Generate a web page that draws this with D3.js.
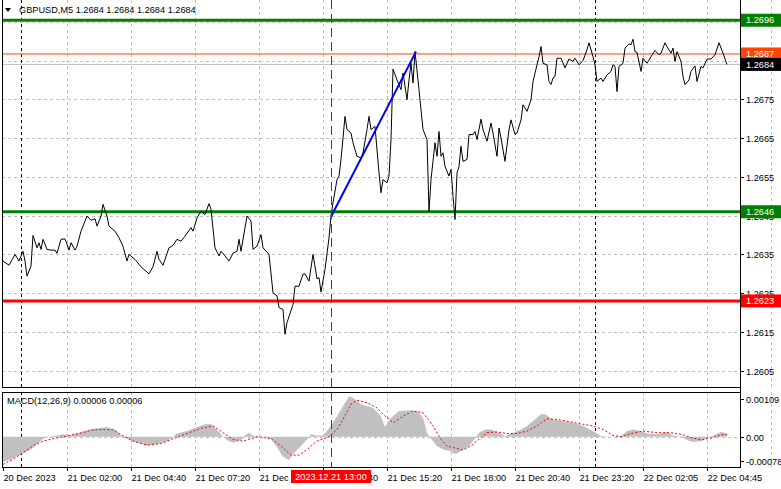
<!DOCTYPE html>
<html>
<head>
<meta charset="utf-8">
<script src="https://cdn.jsdelivr.net/npm/d3@7"></script>
<style>
html,body{margin:0;padding:0;background:#fff;}
svg{display:block;}
text{font-family:"Liberation Sans",Arial,sans-serif;font-size:9.2px;fill:#000;}
</style>
</head>
<body>
<svg id="chart" width="781" height="489"></svg>
<script>
// ---------------- DATA ----------------
const symbolTitle = "GBPUSD,M5  1.2684 1.2684 1.2684 1.2684";
const macdTitle = "MACD(12,26,9) 0.00006 0.00006";
const barCount = 363;
// close price vertices: [bar index, price]
const priceVertices = [
[0,1.26333],[3,1.26322],[6,1.26350],[8,1.26333],[10,1.26358],[11,1.26333],[12,1.26294],[14,1.26320],
[15,1.26399],[17,1.26367],[18,1.26380],[19,1.26363],[20,1.26389],[22,1.26363],[24,1.26361],[26,1.26361],
[27,1.26353],[29,1.26389],[31,1.26390],[32,1.26376],[33,1.26361],[34,1.26380],[36,1.26361],[37,1.26371],
[39,1.26410],[42,1.26449],[44,1.26438],[46,1.26442],[47,1.26423],[49,1.26449],[50,1.26479],[52,1.26449],
[53,1.26423],[56,1.26410],[58,1.26393],[60,1.26371],[62,1.26333],[63,1.26350],[66,1.26337],[69,1.26318],
[73,1.26300],[75,1.26318],[77,1.26358],[78,1.26337],[80,1.26322],[83,1.26367],[85,1.26373],[87,1.26389],
[89,1.26384],[91,1.26397],[94,1.26419],[95,1.26410],[97,1.26444],[99,1.26461],[101,1.26453],[103,1.26481],
[104,1.26466],[106,1.26367],[108,1.26346],[109,1.26358],[111,1.26346],[113,1.26333],[115,1.26353],[117,1.26358],
[118,1.26389],[119,1.26358],[122,1.26449],[124,1.26436],[125,1.26363],[127,1.26371],[129,1.26401],[130,1.26367],
[133,1.26350],[135,1.26251],[137,1.26243],[138,1.26213],[140,1.26208],[141,1.26144],[142,1.26174],[145,1.26221],
[146,1.26268],[148,1.26268],[150,1.26299],[151,1.26300],[153,1.26281],[155,1.26350],[157,1.26287],[158,1.26290],
[159,1.26253],[161,1.26311],[163,1.26393],[164,1.26449],[165,1.26483],[167,1.26543],[168,1.26552],[169,1.26595],
[171,1.26706],[172,1.26672],[174,1.26663],[175,1.26638],[177,1.26603],[179,1.26599],[180,1.26612],[182,1.26672],
[183,1.26706],[184,1.26672],[186,1.26680],[188,1.26560],[189,1.26509],[190,1.26543],[192,1.26535],[193,1.26552],
[194,1.26646],[195,1.26828],[197,1.26800],[199,1.26775],[200,1.26818],[202,1.26749],[203,1.26800],[204,1.26843],
[205,1.26792],[206,1.26873],[208,1.26775],[209,1.26723],[210,1.26672],[212,1.26646],[213,1.26461],[214,1.26543],
[216,1.26638],[217,1.26603],[218,1.26667],[219,1.26603],[220,1.26612],[221,1.26577],[223,1.26552],[224,1.26569],
[225,1.26500],[226,1.26440],[227,1.26560],[228,1.26577],[229,1.26629],[230,1.26590],[232,1.26595],[233,1.26659],
[235,1.26659],[236,1.26667],[237,1.26646],[239,1.26699],[240,1.26672],[242,1.26642],[244,1.26689],[245,1.26663],
[247,1.26603],[248,1.26676],[249,1.26650],[251,1.26590],[253,1.26672],[254,1.26697],[256,1.26659],[257,1.26663],
[259,1.26697],[260,1.26736],[262,1.26719],[264,1.26749],[265,1.26796],[267,1.26839],[268,1.26860],[269,1.26886],
[270,1.26843],[272,1.26839],[273,1.26796],[274,1.26788],[275,1.26805],[276,1.26809],[277,1.26856],[279,1.26856],
[281,1.26831],[283,1.26854],[285,1.26848],[286,1.26856],[288,1.26839],[290,1.26850],[292,1.26878],[293,1.26896],
[295,1.26860],[296,1.26839],[297,1.26796],[299,1.26805],[300,1.26796],[302,1.26813],[304,1.26822],[305,1.26839],
[306,1.26835],[307,1.26770],[308,1.26835],[310,1.26843],[311,1.26882],[313,1.26893],[314,1.26891],[315,1.26905],
[316,1.26873],[317,1.26871],[319,1.26822],[320,1.26856],[322,1.26843],[324,1.26860],[326,1.26876],[328,1.26865],
[329,1.26869],[331,1.26896],[332,1.26886],[334,1.26869],[335,1.26882],[336,1.26848],[337,1.26873],[339,1.26848],
[340,1.26809],[341,1.26788],[343,1.26800],[344,1.26822],[346,1.26836],[347,1.26796],[349,1.26835],[350,1.26831],
[352,1.26854],[354,1.26854],[356,1.26865],[358,1.26896],[360,1.26869],[362,1.26840]
];
// MACD main (histogram) vertices: [bar index, value]
const macdMain = [
[0,-0.00063],[4,-0.00056],[9,-0.00044],[14,-0.00032],[17,-0.00019],[20,-0.00005],[23,0],[27,0.00003],[30,0.00006],
[33,0.00003],[38,0.0001],[43,0.00018],[48,0.00022],[52,0.00024],[56,0.00018],[59,0.00003],[63,-0.00007],[67,-0.00015],
[72,-0.00022],[77,-0.00019],[82,-0.00011],[87,0.00008],[92,0.00014],[97,0.00024],[101,0.00031],[104,0.00032],
[106,0.00022],[109,0.00006],[112,-0.00008],[115,-0.00015],[119,-0.00008],[121,0.00003],[123,0.0001],[124,0.00006],
[127,-0.00002],[130,0],[134,-0.00005],[137,-0.00027],[140,-0.0005],[143,-0.00058],[145,-0.00044],[149,-0.00023],
[152,-0.00007],[154,0.00006],[157,0.00003],[160,0.00003],[164,0.00027],[167,0.00051],[170,0.00076],[173,0.00101],
[175,0.00097],[179,0.00081],[182,0.00076],[185,0.00072],[189,0.0005],[191,0.00025],[194,0.00047],[198,0.00064],
[204,0.00066],[207,0.00064],[210,0.00047],[212,0.0001],[214,-0.00005],[217,-0.00023],[220,-0.00032],[224,-0.00036],
[226,-0.00044],[229,-0.00036],[233,-0.00023],[235,-0.00011],[238,0.0001],[241,0.00018],[244,0.00018],[248,0.0001],
[251,0.00002],[255,0.0001],[259,0.00018],[262,0.00027],[265,0.00039],[269,0.00056],[271,0.00056],[275,0.00043],
[280,0.00039],[285,0.00035],[290,0.00027],[295,0.00014],[299,0.00002],[304,0],[309,0.00002],[312,0.00014],
[315,0.00018],[319,0.00014],[322,0.00008],[327,0.00006],[332,0.00012],[335,0.00003],[339,0],[342,-0.00008],
[345,-0.00013],[349,-0.00011],[353,-0.00002],[355,0.00003],[359,0.00012],[361,0.0001],[362,0.00006]
];
// MACD signal vertices: [bar index, value]
const macdSignal = [
[0,-0.00069],[5,-0.00056],[10,-0.0004],[15,-0.00023],[20,-0.00011],[25,-0.00005],[32,0.00002],[38,0.00008],
[45,0.00017],[50,0.00018],[55,0.00017],[60,0.00002],[65,-0.00011],[72,-0.00021],[79,-0.00017],[85,-0.00005],
[92,0.00008],[99,0.00021],[105,0.00027],[110,0.0001],[115,-0.00007],[120,-0.00011],[127,0],[134,-0.00005],
[139,-0.00023],[144,-0.00046],[148,-0.00046],[152,-0.00032],[157,-0.00011],[163,0],[167,0.00018],[170,0.00043],
[174,0.00081],[177,0.00091],[182,0.00085],[187,0.00072],[190,0.00056],[195,0.00035],[200,0.00051],[205,0.00064],
[210,0.0006],[215,0.00027],[219,-0.00007],[222,-0.00023],[225,-0.00027],[230,-0.00033],[234,-0.00023],[239,-0.00002],
[242,0.0001],[247,0.00012],[252,0.00008],[257,0.00008],[262,0.00014],[267,0.00027],[272,0.00045],[277,0.00043],
[284,0.00037],[289,0.00032],[295,0.00027],[300,0.00018],[305,0.00003],[309,0],[314,0.00008],[320,0.00014],
[327,0.0001],[334,0.0001],[339,0.00006],[344,-0.00002],[349,-0.00008],[355,-0.00002],[360,0.00006],[362,0.00006]
];
const priceTicks = [1.2605,1.2615,1.2625,1.2635,1.2645,1.2655,1.2665,1.2675,1.2685,1.2695];
// labels of 1.2685 and 1.2695 are fully covered by the level boxes in the reference
const priceTickLabels = ["1.2605","1.2615","1.2625","1.2635","1.2645","1.2655","1.2665","1.2675","",""];
const macdTicks = [0.00109, 0.00, -0.00078];
const macdTickLabels = ["0.00109","0.00","-0.00078"];
const xTickBars = [0,32,64,96,128,160,192,224,256,288,320,352];
const xTickLabels = ["20 Dec 2023","21 Dec 02:00","21 Dec 04:40","21 Dec 07:20","21 Dec 10:00","21 Dec 12:40",
  "21 Dec 15:20","21 Dec 18:00","21 Dec 20:40","21 Dec 23:20","22 Dec 02:05","22 Dec 04:45"];
const separatorBars = [9, 296];
const crosshairBar = 164;
const crosshairLabel = "2023.12.21 13:00";
const levelValues = [1.26954, 1.26867, 1.2646, 1.2623];
const levelLabels = ["1.2696","1.2687","1.2646","1.2623"];
const bidValue = 1.2684;
const bidLabel = "1.2684";
const trendLine = [[164,1.26447],[206.5,1.26873]];

// ---------------- LAYOUT ----------------
const svg = d3.select("#chart");
const L = 2, R = 740, priceTop = 0, priceBottom = 387, macdTop = 392, macdBottom = 467;
const x = d3.scaleLinear().domain([0, barCount - 1]).range([3, 727]);
const y = d3.scaleLinear().domain([1.26, 1.27]).range([390.1, 2.4]);
const my = d3.scaleLinear().domain([-0.00078, 0.00109]).range([468, 393]);

svg.append("rect").attr("width",781).attr("height",489).attr("fill","#fff");

const gridColor = "#c0c0c0";
// vertical grid
const vGrid = d3.range(1, 23).map(k => 32*k);
[[priceTop, priceBottom],[macdTop, macdBottom]].forEach(([t,b]) => {
  svg.append("g").selectAll("line").data(vGrid).join("line")
    .attr("x1", d => Math.round(x(d))+0.5).attr("x2", d => Math.round(x(d))+0.5)
    .attr("y1", t).attr("y2", b)
    .attr("stroke", gridColor).attr("stroke-dasharray","3,3").attr("stroke-width",1);
});
// horizontal grid (price)
svg.append("g").selectAll("line").data(priceTicks).join("line")
  .attr("x1", L).attr("x2", R)
  .attr("y1", d => Math.round(y(d))+0.5).attr("y2", d => Math.round(y(d))+0.5)
  .attr("stroke", gridColor).attr("stroke-dasharray","3,3");
// MACD zero line
svg.append("line").attr("x1",L).attr("x2",R)
  .attr("y1", Math.round(my(0))+0.5).attr("y2", Math.round(my(0))+0.5)
  .attr("stroke", gridColor).attr("stroke-dasharray","3,3");

// period separators
[[priceTop, priceBottom],[macdTop, macdBottom]].forEach(([t,b]) => {
  svg.append("g").selectAll("line").data(separatorBars).join("line")
    .attr("x1", d => Math.round(x(d))+0.5).attr("x2", d => Math.round(x(d))+0.5)
    .attr("y1", t).attr("y2", b)
    .attr("stroke", "#000").attr("stroke-dasharray","3,3");
});

// MACD histogram
svg.append("clipPath").attr("id","clipM").append("rect")
  .attr("x",L+1).attr("y",macdTop+1).attr("width",R-L-1).attr("height",macdBottom-macdTop-1);
svg.append("path").datum(macdMain)
  .attr("clip-path","url(#clipM)")
  .attr("d", d3.area().x(d => x(d[0])).y0(my(0)).y1(d => my(d[1])))
  .attr("fill","#c0c0c0");
svg.append("path").datum(macdSignal)
  .attr("clip-path","url(#clipM)")
  .attr("d", d3.line().x(d => x(d[0])).y(d => my(d[1])))
  .attr("fill","none").attr("stroke","#ff0000").attr("stroke-width",1).attr("stroke-dasharray","2,2");

// horizontal levels
const levelColors = ["#008000","#ff4500","#008000","#ff0000"];
const levelWidths = [3,1,3,3];
svg.append("line").attr("x1",L).attr("x2",R)
  .attr("y1", y(bidValue)).attr("y2", y(bidValue))
  .attr("stroke","#c0c0c0").attr("stroke-width",1);
levelValues.forEach((v,i) => {
  svg.append("line").attr("x1",L).attr("x2",R)
    .attr("y1", y(v)).attr("y2", y(v))
    .attr("stroke", levelColors[i]).attr("stroke-width", levelWidths[i]);
});

// price line
svg.append("path").datum(priceVertices)
  .attr("d", d3.line().x(d => x(d[0])).y(d => y(d[1])))
  .attr("fill","none").attr("stroke","#000").attr("stroke-width",1);

// trend line
svg.append("path").datum(trendLine)
  .attr("d", d3.line().x(d => x(d[0])).y(d => y(d[1])))
  .attr("fill","none").attr("stroke","#0000ff").attr("stroke-width",2);

// crosshair
svg.append("line")
  .attr("x1", Math.round(x(crosshairBar))+0.5).attr("x2", Math.round(x(crosshairBar))+0.5)
  .attr("y1", 0).attr("y2", macdBottom)
  .attr("stroke","#e00000").attr("stroke-width",1).attr("stroke-dasharray","9,5");

// borders
const bc = "#000";
svg.append("line").attr("x1",L+0.5).attr("x2",L+0.5).attr("y1",0).attr("y2",priceBottom).attr("stroke",bc);
svg.append("line").attr("x1",L).attr("x2",R).attr("y1",priceBottom+0.5).attr("y2",priceBottom+0.5).attr("stroke",bc);
svg.append("line").attr("x1",L+0.5).attr("x2",L+0.5).attr("y1",macdTop).attr("y2",macdBottom).attr("stroke",bc);
svg.append("line").attr("x1",L).attr("x2",R).attr("y1",macdTop+0.5).attr("y2",macdTop+0.5).attr("stroke",bc);
svg.append("line").attr("x1",L).attr("x2",R+1).attr("y1",macdBottom+0.5).attr("y2",macdBottom+0.5).attr("stroke",bc);
svg.append("line").attr("x1",R+0.5).attr("x2",R+0.5).attr("y1",0).attr("y2",macdBottom+1).attr("stroke",bc);

// right price axis
const pa = svg.append("g");
priceTicks.forEach((t,i) => {
  const yy = Math.round(y(t))+0.5;
  pa.append("line").attr("x1",R).attr("x2",R+4).attr("y1",yy).attr("y2",yy).attr("stroke","#000");
  if (priceTickLabels[i]) pa.append("text").attr("x",R+6).attr("y",yy).attr("dy","0.35em").text(priceTickLabels[i]);
});
// level label boxes
const boxes = levelValues.map((v,i) => ({v, label: levelLabels[i], color: levelColors[i]}));
boxes.push({v: bidValue, label: bidLabel, color: "#000"});
boxes.forEach(b => {
  const yy = y(b.v);
  pa.append("rect").attr("x",R+1).attr("y",yy-6.5).attr("width",40).attr("height",13).attr("fill",b.color);
  pa.append("text").attr("x",R+6).attr("y",yy).attr("dy","0.35em").style("fill","#fff").text(b.label);
});

// right MACD axis
const macdLabelY = [my(macdTicks[0]) + 6, my(macdTicks[1]), my(macdTicks[2]) - 7];
macdTicks.forEach((t,i) => {
  const yy = Math.round(macdLabelY[i])+0.5;
  pa.append("line").attr("x1",R).attr("x2",R+4).attr("y1",yy).attr("y2",yy).attr("stroke","#000");
  pa.append("text").attr("x",R+6).attr("y",yy).attr("dy","0.35em").text(macdTickLabels[i]);
});

// bottom axis
const xa = svg.append("g");
xTickBars.forEach((b,i) => {
  const xx = Math.round(x(b))+0.5;
  xa.append("line").attr("x1",xx).attr("x2",xx).attr("y1",macdBottom).attr("y2",macdBottom+4).attr("stroke","#000");
  xa.append("text").attr("x",xx).attr("y",478).attr("dy","0.35em").text(xTickLabels[i]);
});
// crosshair time label
const cx = x(crosshairBar);
xa.append("rect").attr("x",cx-40).attr("y",470).attr("width",80).attr("height",13).attr("fill","#ff0000");
xa.append("text").attr("x",cx).attr("y",476.5).attr("dy","0.35em").attr("text-anchor","middle")
  .style("fill","#fff").text(crosshairLabel);

// titles
svg.append("path").attr("d","M5,8 L11,8 L8,12 Z").attr("fill","#000");
svg.append("text").attr("x",19).attr("y",10).attr("dy","0.35em").text(symbolTitle);
svg.append("text").attr("x",7).attr("y",401).attr("dy","0.35em").text(macdTitle);
</script>
</body>
</html>
